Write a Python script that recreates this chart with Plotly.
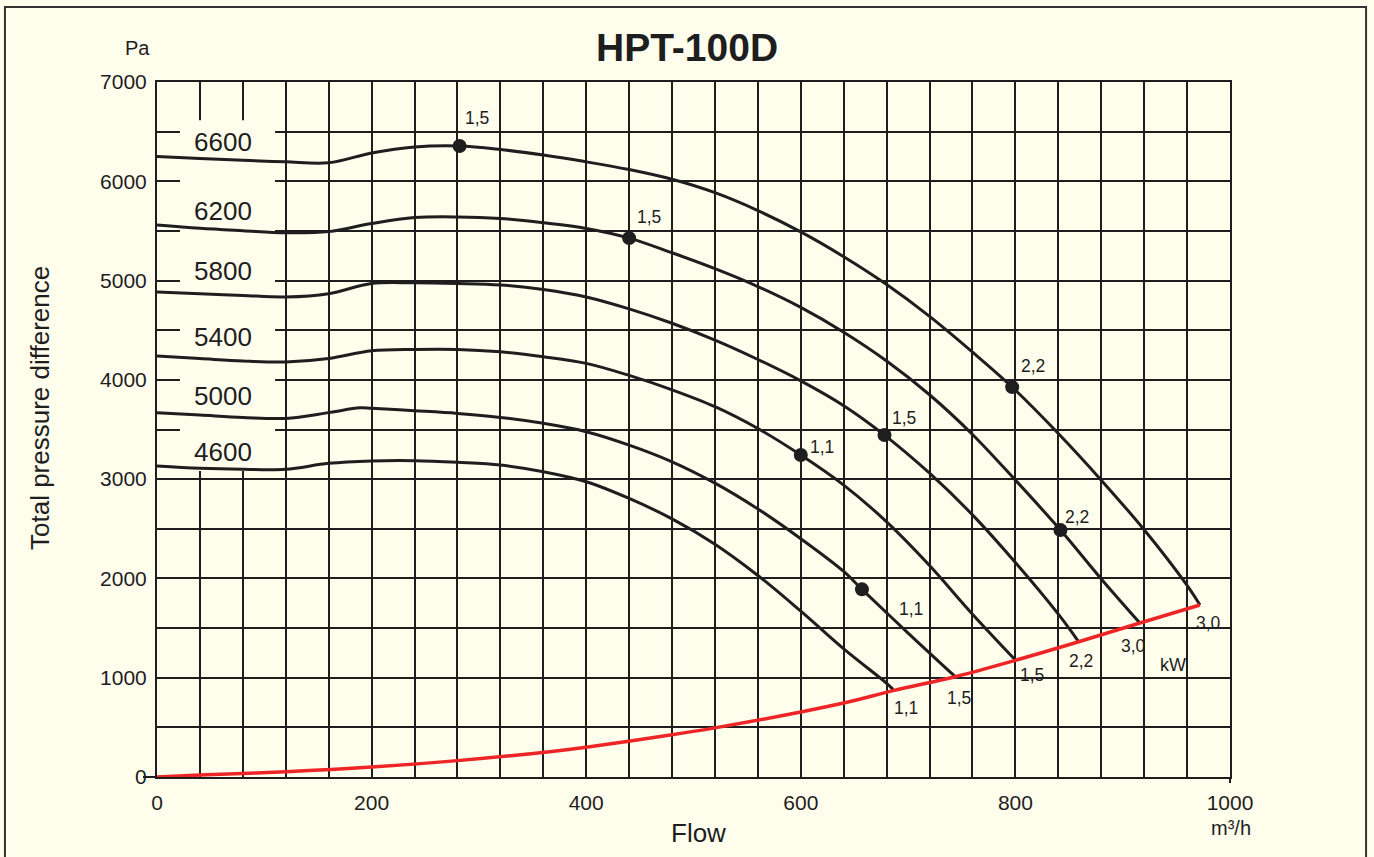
import plotly.graph_objects as go

# ---------------- data ----------------
speeds = ["6600", "6200", "5800", "5400", "5000", "4600"]

flow_6600 = [0, 40, 80, 120, 160, 200, 240, 282, 320, 360, 400, 440, 480, 520, 560, 600, 640, 680, 720, 760, 797, 840, 880, 920, 960, 972]
pres_6600 = [6250, 6230, 6212, 6196, 6186, 6285, 6345, 6355, 6320, 6264, 6196, 6118, 6020, 5885, 5705, 5490, 5240, 4960, 4640, 4280, 3927, 3460, 2990, 2490, 1930, 1732]

flow_6200 = [0, 40, 80, 120, 160, 200, 240, 280, 320, 360, 400, 440, 480, 520, 560, 600, 640, 680, 720, 760, 800, 842, 880, 916]
pres_6200 = [5559, 5526, 5502, 5481, 5493, 5574, 5634, 5641, 5625, 5582, 5525, 5428, 5280, 5120, 4940, 4730, 4480, 4190, 3850, 3450, 2990, 2487, 1995, 1551]

flow_5800 = [0, 40, 80, 120, 160, 200, 240, 280, 320, 360, 400, 440, 480, 520, 560, 600, 640, 678, 720, 760, 800, 840, 859]
pres_5800 = [4885, 4868, 4850, 4835, 4868, 4970, 4977, 4970, 4955, 4910, 4835, 4715, 4570, 4400, 4205, 3990, 3740, 3444, 3060, 2640, 2160, 1640, 1362]

flow_5400 = [0, 40, 80, 120, 160, 200, 240, 280, 320, 360, 400, 440, 480, 520, 560, 600, 640, 680, 720, 760, 800]
pres_5400 = [4240, 4215, 4190, 4180, 4215, 4293, 4307, 4307, 4283, 4233, 4166, 4045, 3900, 3730, 3510, 3243, 2940, 2570, 2130, 1640, 1178]

flow_5000 = [0, 40, 80, 120, 160, 189, 200, 240, 280, 320, 360, 400, 440, 480, 520, 560, 600, 640, 657, 700, 744]
pres_5000 = [3669, 3646, 3622, 3612, 3670, 3718, 3713, 3689, 3662, 3622, 3562, 3478, 3343, 3175, 2960, 2700, 2400, 2070, 1890, 1450, 1010]

flow_4600 = [0, 40, 80, 120, 160, 200, 240, 280, 320, 360, 400, 440, 480, 520, 560, 600, 640, 680, 686]
pres_4600 = [3132, 3109, 3099, 3099, 3159, 3183, 3186, 3169, 3142, 3075, 2974, 2806, 2600, 2345, 2030, 1670, 1290, 944, 883]

# system (limit) curve, red
flow_limit = [0, 40, 120, 200, 280, 366, 400, 480, 520, 600, 646, 686, 744, 800, 859, 916, 972]
pres_limit = [0, 20, 53, 100, 165, 255, 300, 425, 495, 655, 760, 870, 1010, 1175, 1362, 1551, 1732]

# motor power points (kW) marked with dots
dot_flow = [282, 440, 797, 842, 678, 600, 657]
dot_pres = [6355, 5428, 3927, 2487, 3444, 3243, 1890]
dot_kw = ["1,5", "1,5", "2,2", "2,2", "1,5", "1,1", "1,1"]

# motor power at the curve ends (kW)
end_kw = ["3,0", "3,0", "2,2", "1,5", "1,5", "1,1"]

x_ticks = [0, 200, 400, 600, 800, 1000]
y_ticks = [0, 1000, 2000, 3000, 4000, 5000, 6000, 7000]

# ---------------- styling ----------------
FONT = "Liberation Sans, Arial, sans-serif"
BG = "#FFFDEC"
INK = "#1e1e1e"
RED = "#EE2527"

curves = [
    (flow_6600, pres_6600), (flow_6200, pres_6200), (flow_5800, pres_5800),
    (flow_5400, pres_5400), (flow_5000, pres_5000), (flow_4600, pres_4600),
]

fig = go.Figure()
for (fx, py), name in zip(curves, speeds):
    fig.add_trace(go.Scatter(x=fx, y=py, mode="lines", name=name,
                             line=dict(color=INK, width=3, shape="spline", smoothing=1.0),
                             showlegend=False, hoverinfo="skip"))

fig.add_trace(go.Scatter(x=flow_limit, y=pres_limit, mode="lines",
                         line=dict(color=RED, width=3.5, shape="spline", smoothing=1.0),
                         showlegend=False, hoverinfo="skip"))

fig.add_trace(go.Scatter(x=dot_flow, y=dot_pres, mode="markers",
                         marker=dict(color=INK, size=14),
                         showlegend=False, hoverinfo="skip"))

annotations = []
# speed labels at the left of each curve
speed_label_y = [6395, 5700, 5096, 4431, 3837, 3273]
for s, yy in zip(speeds, speed_label_y):
    annotations.append(dict(x=61.5, y=yy, text=s, showarrow=False,
                            font=dict(family=FONT, size=26, color=INK)))

# kW labels near dots (pixel offsets)
dot_offsets = [(17, 28), (20, 21), (21, 21), (17, 13), (20, 17), (21, 8), (49, -20)]
for q, p, t, (dx, dy) in zip(dot_flow, dot_pres, dot_kw, dot_offsets):
    annotations.append(dict(x=q, y=p, text=t, showarrow=False, xshift=dx, yshift=dy,
                            font=dict(family=FONT, size=17.5, color=INK)))

# kW labels at curve ends
end_offsets = [(9, -18), (-6, -23), (2, -19), (17, -15), (4, -21), (13, -19)]
for (fx, py), t, (dx, dy) in zip(curves, end_kw, end_offsets):
    annotations.append(dict(x=fx[-1], y=py[-1], text=t, showarrow=False, xshift=dx, yshift=dy,
                            font=dict(family=FONT, size=17.5, color=INK)))

annotations.append(dict(x=947, y=1128, text="kW", showarrow=False,
                        font=dict(family=FONT, size=18, color=INK)))

# outer texts (paper coordinates)
def paper_text(x, y, text, size, angle=0):
    return dict(xref="paper", yref="paper", x=x, y=y, text=text, showarrow=False,
                xanchor="center", yanchor="middle", textangle=angle,
                font=dict(family=FONT, size=size, color=INK))

annotations += [
    paper_text(0.494, 1.049, "<b>HPT-100D</b>", 39),
    paper_text(-0.0186, 1.049, "Pa", 20),
    paper_text(-0.109, 0.531, "Total pressure difference", 26, -90),
    paper_text(0.505, -0.0806, "Flow", 26),
    paper_text(1.001, -0.0734, "m³/h", 20),
]

shapes = [
    # blank band behind the speed labels (grid interrupted)
    dict(type="rect", xref="x", yref="y", x0=21.4, x1=110, y0=3082, y1=6616,
         fillcolor=BG, line=dict(width=0), layer="between"),
    # outer frame
    dict(type="rect", xref="paper", yref="paper", x0=-0.1417, x1=1.1268, y0=-0.2, y1=1.1079,
         line=dict(color="#333333", width=2), fillcolor="rgba(0,0,0,0)", layer="below"),
    # small tick at y=0 and x=1000
    dict(type="line", xref="paper", yref="paper", x0=-14 / 1073, x1=0, y0=0, y1=0,
         line=dict(color=INK, width=2)),
    dict(type="line", xref="paper", yref="paper", x0=1, x1=1, y0=0, y1=-6 / 695,
         line=dict(color=INK, width=2)),
]

fig.update_layout(
    width=1374, height=857,
    margin=dict(l=157, r=144, t=82, b=80),
    paper_bgcolor=BG, plot_bgcolor=BG,
    font=dict(family=FONT, color=INK),
    annotations=annotations, shapes=shapes,
    showlegend=False,
)
fig.update_xaxes(range=[0, 1000], tickvals=x_ticks, ticktext=[str(v) for v in x_ticks],
                 showgrid=True, gridcolor=INK, gridwidth=2,
                 minor=dict(dtick=40, tick0=0, showgrid=True, gridcolor=INK, gridwidth=2),
                 showline=True, linecolor=INK, linewidth=2, mirror=True, zeroline=False,
                 ticks="", ticklabelstandoff=6, tickfont=dict(family=FONT, size=21, color=INK))
fig.update_yaxes(range=[0, 7000], tickvals=y_ticks, ticktext=[str(v) for v in y_ticks],
                 showgrid=True, gridcolor=INK, gridwidth=2,
                 minor=dict(dtick=500, tick0=0, showgrid=True, gridcolor=INK, gridwidth=2),
                 showline=True, linecolor=INK, linewidth=2, mirror=True, zeroline=False,
                 ticks="", ticklabelstandoff=4, tickfont=dict(family=FONT, size=21, color=INK))

fig.write_html("out.html", config={"displayModeBar": False},
               post_script="document.body.style.margin='0px';document.body.style.background='#FFFDEC';")
